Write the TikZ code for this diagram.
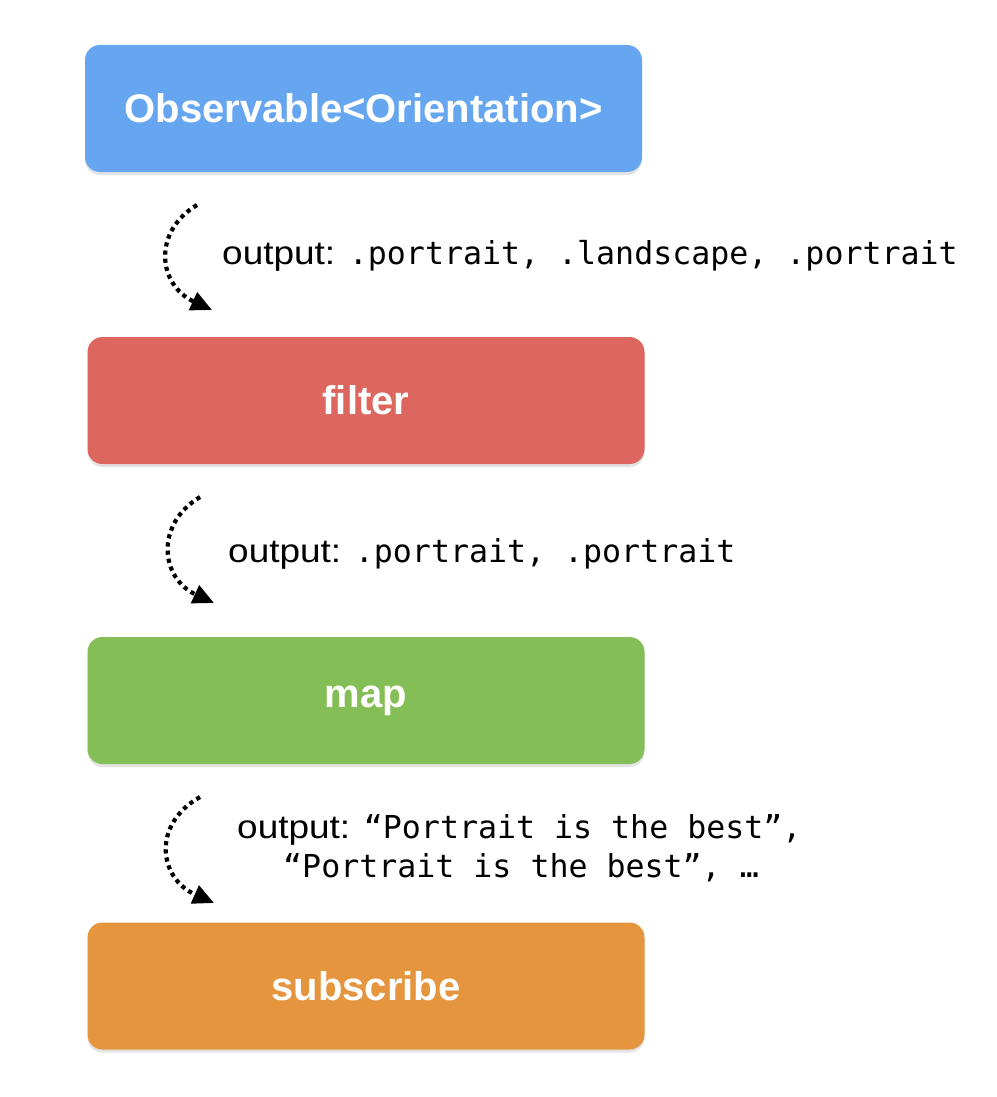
\documentclass[tikz,border=0pt]{standalone}
\usepackage{fontspec}
\setmainfont{Liberation Sans}
\newfontfamily\labfont[FakeStretch=1.12]{Liberation Sans}
\newfontfamily\codefont{DejaVu Sans Mono}
\usetikzlibrary{arrows.meta,shadows}
\definecolor{cblue}{HTML}{66A6F0}
\definecolor{cred}{HTML}{DD665E}
\definecolor{cgreen}{HTML}{84BE56}
\definecolor{corange}{HTML}{E4953E}
\tikzset{
  box/.style={rounded corners=15pt, minimum width=557pt, minimum height=127pt,
    inner sep=0pt, text=white, font=\bfseries\fontsize{40}{40}\selectfont,
    drop shadow={opacity=0.22, shadow xshift=0pt, shadow yshift=-3pt}},
  flow/.style={line width=4.2pt, dash pattern=on 4.2pt off 4pt,
    -{Triangle[length=21pt,width=19pt]}},
  lab/.style={anchor=west, inner sep=0pt, font=\labfont\fontsize{33}{38}\selectfont},
}
\newcommand{\cd}[1]{{\codefont\fontsize{31.6}{38}\selectfont #1}}
\begin{document}
\begin{tikzpicture}[x=1pt,y=-1pt]
\useasboundingbox[fill=white] (0,0) rectangle (996,1097);
\node[box, fill=cblue]   (obs) at (363.5,108.5) {Observable<Orientation>};
\node[box, fill=cred]    (flt) at (366,400.5) {filter};
\node[box, fill=cgreen]  (map) at (366,700.5) {map};
\node[box, fill=corange] (sub) at (366,986) {subscribe};

\coordinate (a1s) at (197,205); \coordinate (a1e) at (212,310);
\coordinate (a2s) at (200,497); \coordinate (a2e) at (214,603);
\coordinate (a3s) at (200,797); \coordinate (a3e) at (214,903);
\draw[flow] (a1s) .. controls (152,232) and (158,285) .. (a1e);
\draw[flow] (a2s) .. controls (155,524) and (160,578) .. (a2e);
\draw[flow] (a3s) .. controls (152,824) and (158,878) .. (a3e);

\node[lab] (l1) at (222,256) {output: \cd{.portrait, .landscape, .portrait}};
\node[lab] (l2) at (228,554) {output: \cd{.portrait, .portrait}};
\node[lab] (l3) at (237,830) {output: \cd{“Portrait is the best”,}};
\node[lab] (l4) at (283,868) {\cd{“Portrait is the best”, …}};
\end{tikzpicture}
\end{document}
